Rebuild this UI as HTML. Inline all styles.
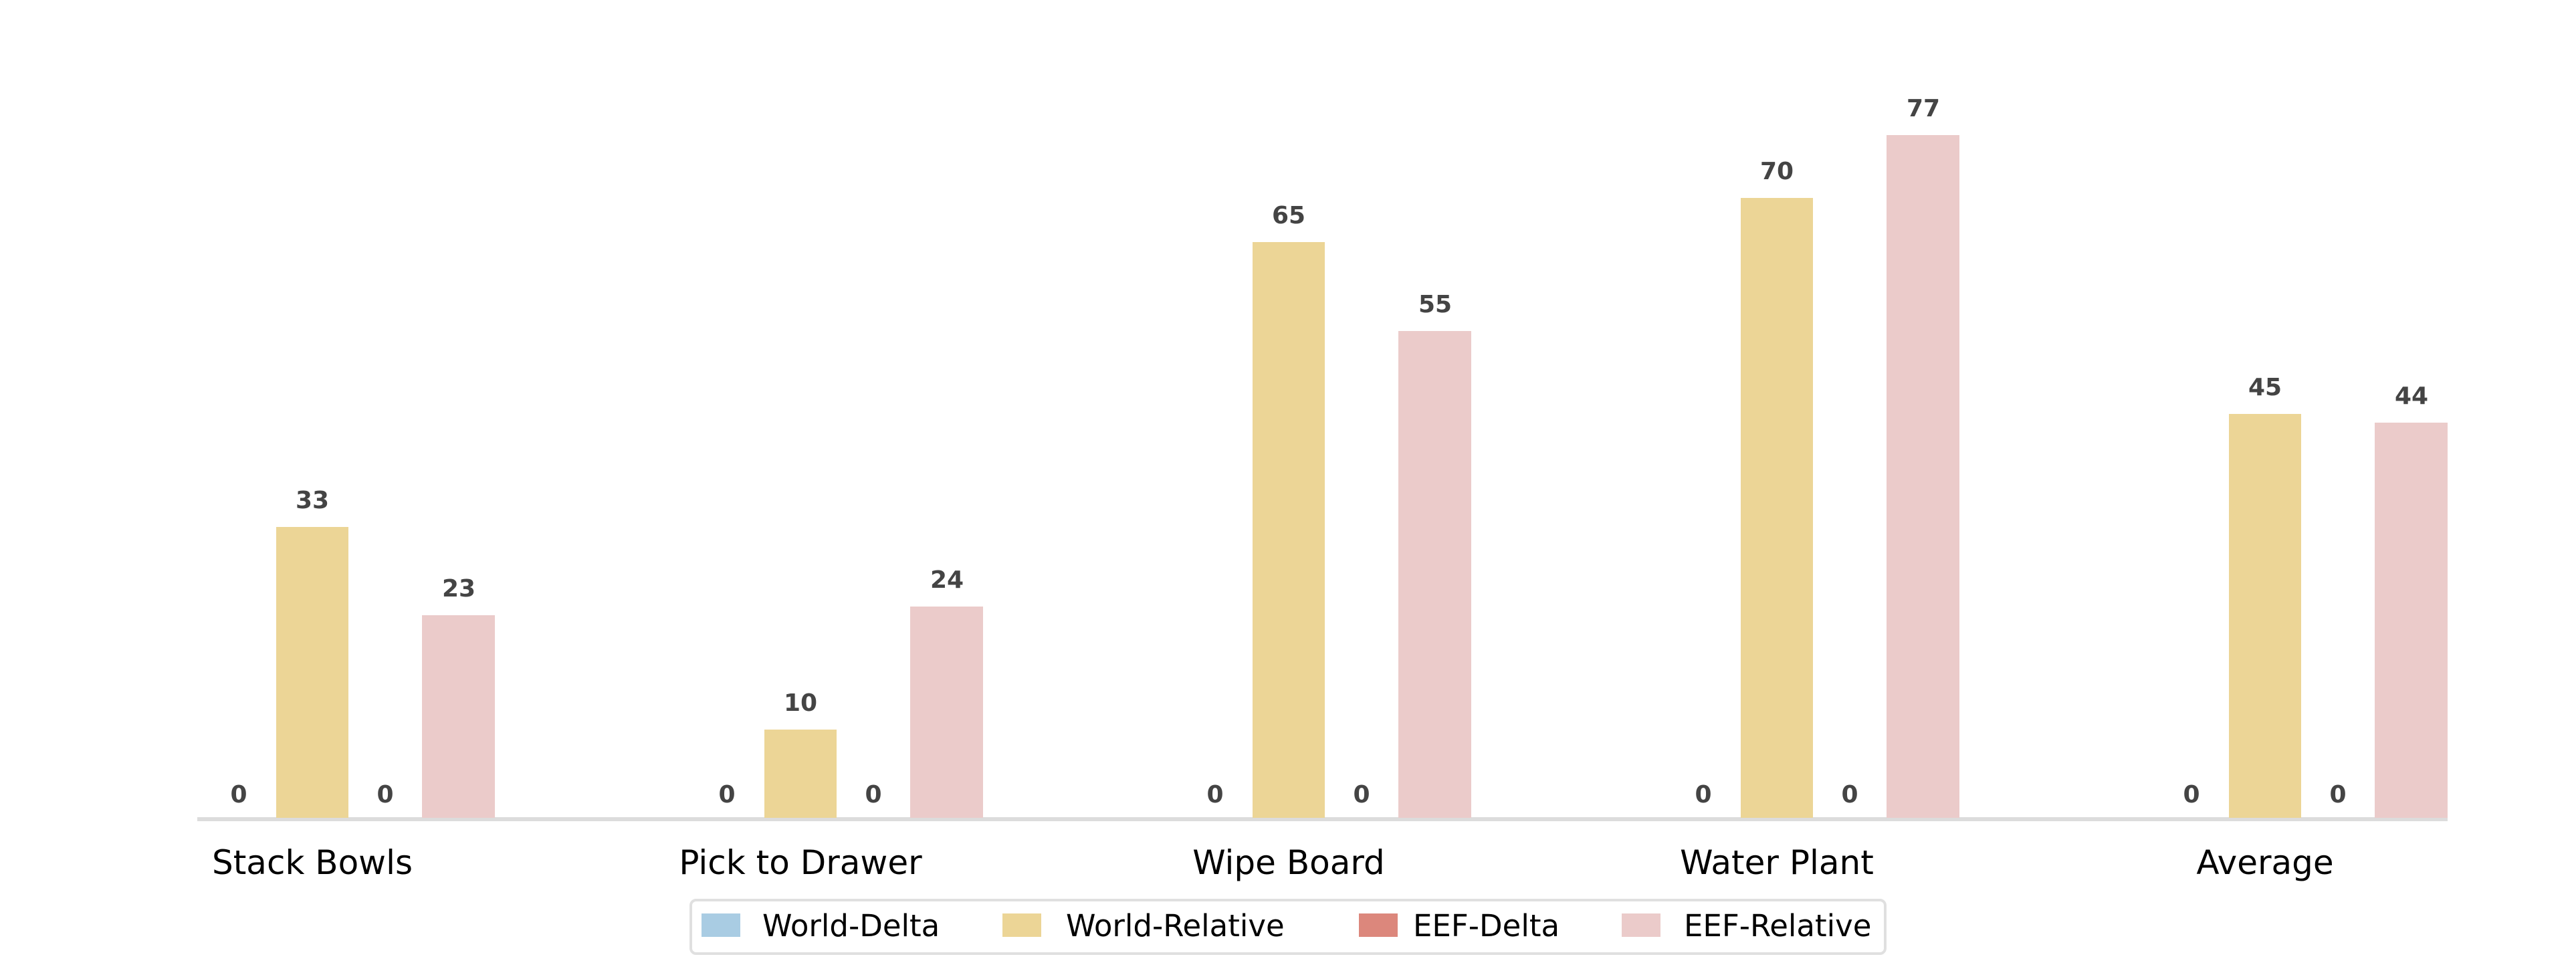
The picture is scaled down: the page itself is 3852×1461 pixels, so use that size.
<!DOCTYPE html>
<html><head><meta charset="utf-8"><style>html,body{margin:0;padding:0;background:#fff}</style></head>
<body>
<svg width="3852" height="1456" viewBox="0 0 3852 1456" xmlns="http://www.w3.org/2000/svg" font-family="DejaVu Sans, Liberation Sans, sans-serif">
<rect width="3852" height="1456" fill="#fff"/>
<line x1="295" y1="1225" x2="3660" y2="1225" stroke="#dcdcdc" stroke-width="6"/>
<g font-size="36" font-weight="bold" fill="#444" text-anchor="middle">
<rect x="413" y="788" width="108" height="435" fill="#ecd596"/>
<rect x="631" y="920" width="109" height="303" fill="#ebcbca"/>
<text x="357" y="1200">0</text><text x="467" y="760">33</text><text x="576" y="1200">0</text><text x="686" y="892">23</text>

<rect x="1143" y="1091" width="108" height="132" fill="#ecd596"/>
<rect x="1361" y="907" width="109" height="316" fill="#ebcbca"/>
<text x="1087" y="1200">0</text><text x="1197" y="1063">10</text><text x="1306" y="1200">0</text><text x="1416" y="879">24</text>

<rect x="1873" y="362" width="108" height="861" fill="#ecd596"/>
<rect x="2091" y="495" width="109" height="728" fill="#ebcbca"/>
<text x="1817" y="1200">0</text><text x="1927" y="334">65</text><text x="2036" y="1200">0</text><text x="2146" y="467">55</text>

<rect x="2603" y="296" width="108" height="927" fill="#ecd596"/>
<rect x="2821" y="202" width="109" height="1021" fill="#ebcbca"/>
<text x="2547" y="1200">0</text><text x="2657" y="268">70</text><text x="2766" y="1200">0</text><text x="2876" y="174">77</text>

<rect x="3333" y="619" width="108" height="604" fill="#ecd596"/>
<rect x="3551" y="632" width="109" height="591" fill="#ebcbca"/>
<text x="3277" y="1200">0</text><text x="3387" y="591">45</text><text x="3496" y="1200">0</text><text x="3606" y="604">44</text>
</g>
<g font-size="50" fill="#000" text-anchor="middle">
<text x="467" y="1307">Stack Bowls</text>
<text x="1197" y="1307">Pick to Drawer</text>
<text x="1927" y="1307">Wipe Board</text>
<text x="2657" y="1307">Water Plant</text>
<text x="3387" y="1307">Average</text>
</g>
<rect x="1033" y="1346" width="1786" height="80" rx="8" fill="#fff" stroke="#e0e0e0" stroke-width="4"/>
<rect x="1049" y="1366" width="58" height="35" fill="#a9cce3"/>
<rect x="1499" y="1366" width="58" height="35" fill="#ecd596"/>
<rect x="2032" y="1366" width="58" height="35" fill="#dc877c"/>
<rect x="2425" y="1366" width="58" height="35" fill="#ebcbca"/>
<g font-size="45" fill="#000">
<text x="1140" y="1400">World-Delta</text>
<text x="1594" y="1400">World-Relative</text>
<text x="2113" y="1400">EEF-Delta</text>
<text x="2518" y="1400">EEF-Relative</text>
</g>
</svg>
</body></html>
